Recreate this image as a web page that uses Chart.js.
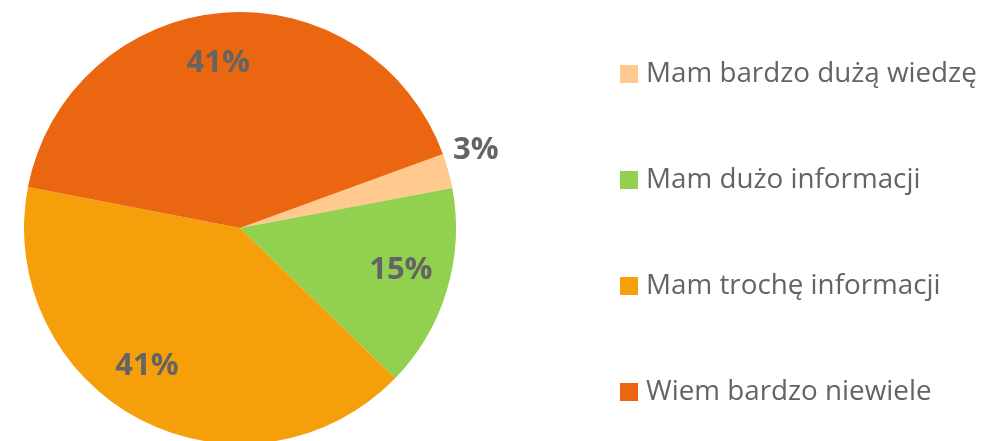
<!DOCTYPE html>
<html>
<head>
<meta charset="utf-8">
<script src="https://cdn.jsdelivr.net/npm/chart.js@4"></script>
<style>
  body { margin: 0; background: #fff; }
  #wrap { width: 981px; height: 441px; overflow: hidden; position: relative; }
</style>
</head>
<body>
<div id="wrap"><canvas id="chart1" width="981" height="460"></canvas></div>
<script>
const labels = ['Mam bardzo dużą wiedzę', 'Mam dużo informacji', 'Mam trochę informacji', 'Wiem bardzo niewiele'];
const values = [2.6, 15.2, 40.8, 41.4];
const colors = ['#FFC98F', '#92D050', '#F5A00A', '#EB6610'];

const textGrey = '#646464';

// percent labels on slices (small angle nudge per slice, like Excel's best fit)
const labelNudge = [-3, -2, 6.5, -3];
const pctLabels = {
    id: 'pctLabels',
    afterDatasetsDraw(chart) {
        const ctx = chart.ctx;
        const meta = chart.getDatasetMeta(0);
        ctx.save();
        ctx.font = 'bold 31px "Open Sans"';
        ctx.fillStyle = textGrey;
        ctx.textAlign = 'center';
        ctx.textBaseline = 'middle';
        meta.data.forEach((arc, i) => {
            const mid = (arc.startAngle + arc.endAngle) / 2 + labelNudge[i] * Math.PI / 180;
            const f = values[i] < 5 ? 1.15 : 0.77;
            const x = arc.x + Math.cos(mid) * arc.outerRadius * f;
            const y = arc.y + Math.sin(mid) * arc.outerRadius * f;
            ctx.fillText(Math.round(values[i]) + '%', x, y);
        });
        ctx.restore();
    }
};

// legend on the right
const sideLegend = {
    id: 'sideLegend',
    afterDraw(chart) {
        const ctx = chart.ctx;
        ctx.save();
        ctx.font = '27.8px "Open Sans"';
        ctx.textBaseline = 'middle';
        labels.forEach((label, i) => {
            const cy = 74 + i * 106;
            ctx.fillStyle = colors[i];
            ctx.fillRect(620, cy - 9, 18, 18);
            ctx.fillStyle = textGrey;
            ctx.fillText(label, 646, cy);
        });
        ctx.restore();
    }
};

const ctx1 = document.getElementById('chart1').getContext('2d');
const chart1 = new Chart(ctx1, {
    type: 'pie',
    data: {
        labels: labels,
        datasets: [{
            data: values,
            backgroundColor: colors,
            borderWidth: 0
        }]
    },
    options: {
        responsive: false,
        animation: false,
        rotation: 70,
        layout: { padding: { left: 24, top: 12, right: 525, bottom: 16 } },
        plugins: {
            legend: { display: false },
            tooltip: { enabled: false }
        }
    },
    plugins: [pctLabels, sideLegend]
});
</script>
</body>
</html>
